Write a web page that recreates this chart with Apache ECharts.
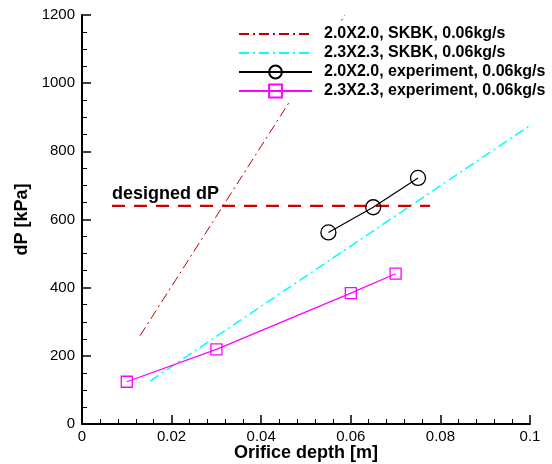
<!DOCTYPE html>
<html><head><meta charset="utf-8">
<script src="https://cdn.jsdelivr.net/npm/echarts@6/dist/echarts.min.js"></script>
<style>html,body{margin:0;padding:0;background:#fff}#c{width:552px;height:464px}</style>
</head><body><div id="c"></div>
<script>
// Data
const skbk20X = [0.01295, 0.0587];
const skbk20Y = [259, 1200];
const skbk23X = [0.0152, 0.1];
const skbk23Y = [126, 876];
const exp20X = [0.055, 0.065, 0.075];
const exp20Y = [562, 636, 722];
const exp23X = [0.01, 0.03, 0.06, 0.07];
const exp23Y = [124, 219, 384, 441];
const designX = [0.0067, 0.0777];
const designY = [640, 640];
const seriesNames = ['2.0X2.0, SKBK, 0.06kg/s','2.3X2.3, SKBK, 0.06kg/s','2.0X2.0, experiment, 0.06kg/s','2.3X2.3, experiment, 0.06kg/s'];
const designLabel = 'designed dP';

const zip = (xs, ys) => xs.map((x, i) => [x, ys[i]]);
const font = 'Liberation Sans, Arial, Helvetica, sans-serif';

const chart = echarts.init(document.getElementById('c'));
chart.setOption({
  animation: false,
  grid: {left: 82, right: 22, top: 15, bottom: 40, containLabel: false, outerBoundsMode: 'none'},
  legend: {
    orient: 'vertical', left: 232, top: 22, padding: [4, 6, 4, 6],
    backgroundColor: '#fff', itemWidth: 73, itemHeight: 16, itemGap: 3,
    data: [
      {name: seriesNames[0], itemStyle: {opacity: 0}},
      {name: seriesNames[1], itemStyle: {opacity: 0}},
      {name: seriesNames[2]},
      {name: seriesNames[3]}
    ],
    textStyle: {fontFamily: font, fontWeight: 'bold', fontSize: 16, lineHeight: 16, color: '#000', padding: [0,0,0,7]}
  },
  xAxis: {
    type: 'value', min: 0, max: 0.1, interval: 0.02,
    name: 'Orifice depth [m]', nameLocation: 'middle', nameGap: 20, nameMoveOverlap: false,
    nameTextStyle: {fontFamily: font, fontWeight: 'bold', fontSize: 18, color: '#000'},
    axisLine: {show: true, onZero: false, lineStyle: {color: '#000', width: 2}},
    axisTick: {show: true, inside: true, length: 9, lineStyle: {color: '#000', width: 1.5}},
    minorTick: {show: true, splitNumber: 5, length: 5, lineStyle: {color: '#000', width: 1}},
    splitLine: {show: false},
    axisLabel: {fontFamily: font, fontSize: 15, color: '#000', margin: 5,
      formatter: v => v === 0 ? '0' : (Math.abs(v - 0.1) < 1e-9 ? '0.1' : v.toFixed(2))}
  },
  yAxis: {
    type: 'value', min: 0, max: 1200, interval: 200,
    name: 'dP [kPa]', nameLocation: 'middle', nameGap: 37,
    nameTextStyle: {fontFamily: font, fontWeight: 'bold', fontSize: 18, color: '#000'},
    axisLine: {show: true, onZero: false, lineStyle: {color: '#000', width: 2}},
    axisTick: {show: true, inside: true, length: 9, lineStyle: {color: '#000', width: 1.5}},
    minorTick: {show: true, splitNumber: 4, length: 5, lineStyle: {color: '#000', width: 1}},
    splitLine: {show: false},
    axisLabel: {fontFamily: font, fontSize: 15, color: '#000', margin: 7, formatter: v => String(v)}
  },
  series: [
    {name: seriesNames[0], type: 'line', data: zip(skbk20X, skbk20Y), symbol: 'none', z: 2,
     lineStyle: {color: '#c00000', width: 1, type: [10, 4, 2, 4]}, itemStyle: {color: '#c00000'}},
    {name: seriesNames[1], type: 'line', data: zip(skbk23X, skbk23Y), symbol: 'none', z: 2,
     lineStyle: {color: '#00ffff', width: 1.5, type: [10, 4, 2, 4]}, itemStyle: {color: '#00ffff'}},
    {name: seriesNames[2], type: 'line', data: zip(exp20X, exp20Y), symbol: 'circle', symbolSize: 15, z: 3,
     lineStyle: {color: '#000', width: 1.2}, itemStyle: {color: 'rgba(0,0,0,0)', borderColor: '#000', borderWidth: 1.3}},
    {name: seriesNames[3], type: 'line', data: zip(exp23X, exp23Y), symbol: 'rect', symbolSize: 11, z: 3,
     lineStyle: {color: '#ff00ff', width: 1.2}, itemStyle: {color: 'rgba(0,0,0,0)', borderColor: '#ff00ff', borderWidth: 1.3}},
    {name: 'design', type: 'line', symbol: 'circle', symbolSize: 0, showSymbol: true, z: 2,
     data: zip(designX, designY).map((p, i) => i === 0 ? {value: p, label: {show: true, position: 'top', align: 'left', distance: 3,
        formatter: designLabel, fontFamily: font, fontWeight: 'bold', fontSize: 18, color: '#000'}} : p),
     lineStyle: {color: '#d00000', width: 2.2, type: [13, 9]}, itemStyle: {color: '#d00000'}}
  ]
});
</script></body></html>
